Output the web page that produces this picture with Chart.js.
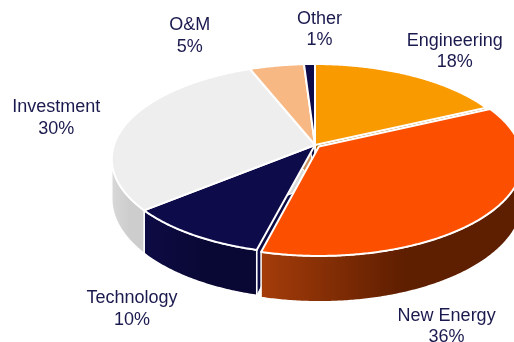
<!DOCTYPE html>
<html>
<head>
<meta charset="utf-8">
<script src="https://cdn.jsdelivr.net/npm/chart.js@4/dist/chart.umd.min.js"></script>
<style>
  html, body { margin: 0; padding: 0; background: #ffffff; overflow: hidden; }
  canvas { display: block; }
</style>
</head>
<body>
<canvas id="c" width="514" height="342"></canvas>
<script>
// Business mix, share of total (%)
const categories = ['Engineering', 'New Energy', 'Technology', 'Investment', 'O&M', 'Other'];
const shares = [18, 36, 10, 30, 5, 1];
const explode = [0, 2.5, 0, 0, 0, 0];

// Styling
const topColors = ['#F99A00', '#FC5000', '#0E0B4A', '#EEEEEE', '#F7B884', '#0E0B4A'];
const wallColors = [
  ['#B06A00', '#8A5200'],
  ['#A53C0A', '#5E1E00'],
  ['#0D0B44', '#090834'],
  ['#D8D8D8', '#CDCDCD'],
  ['#C99060', '#A87040'],
  ['#0D0B44', '#090834']
];
// label centre offsets (px) from the rim point at each slice's middle angle
const labelNudge = [[44, -25], [-44, 113], [-60, 73], [-71, -6], [-87, -31], [10, -36]];
const labelFont = '18px "Liberation Sans", Arial, sans-serif';
const labelColor = '#1B1A4F';

// tilted-disc perspective, in units of the pie radius
const VIEW = { sx: 2.01, sy: 0.929, depth: 0.39, persp: 0.147 };

function geometry(chart) {
  const arcs = chart.getDatasetMeta(0).data;
  const R = arcs[0].outerRadius;
  const cx = arcs[0].x, cy = arcs[0].y;
  const A = VIEW.sx * R, B = VIEW.sy * R, H = VIEW.depth * R, p = VIEW.persp;
  const proj = (ux, uy, h) => {
    const vb = -uy;               // positive towards the back of the disc
    const den = 1 + p * vb;
    return [cx + A * ux / den, cy - B * vb / den + H * h / den];
  };
  const slices = arcs.map((arc, i) => {
    const off = (arc.options.offset || 0) / R;
    const mid = (arc.startAngle + arc.endAngle) / 2;
    return { i, arc, a1: arc.startAngle, a2: arc.endAngle, mid,
             ox: Math.cos(mid) * off, oy: Math.sin(mid) * off };
  });
  const rim = (s, a, h) => proj(s.ox + Math.cos(a), s.oy + Math.sin(a), h);
  const hub = (s, h) => proj(s.ox, s.oy, h);
  return { slices, rim, hub, p };
}

function angles(a1, a2) {
  const n = Math.max(2, Math.ceil(Math.abs(a2 - a1) / (Math.PI / 360)));
  const out = [];
  for (let k = 0; k <= n; k++) out.push(a1 + (a2 - a1) * k / n);
  return out;
}

function tracePoly(ctx, pts) {
  ctx.beginPath();
  ctx.moveTo(pts[0][0], pts[0][1]);
  for (let k = 1; k < pts.length; k++) ctx.lineTo(pts[k][0], pts[k][1]);
  ctx.closePath();
}

const pie3d = {
  id: 'pie3d',
  beforeDatasetsDraw(chart) {
    const meta = chart.getDatasetMeta(0);
    if (!meta.data.length) return false;
    const ctx = chart.ctx;
    const { slices, rim, hub, p } = geometry(chart);
    ctx.save();
    ctx.lineJoin = 'round';

    // radial cut faces (seen only through the gap of an exploded slice)
    slices.forEach(s => {
      [s.a1, s.a2].forEach(a => {
        const pts = [hub(s, 0), rim(s, a, 0), rim(s, a, 1), hub(s, 1)];
        tracePoly(ctx, pts);
        ctx.fillStyle = wallColors[s.i][0];
        ctx.fill();
        ctx.strokeStyle = '#ffffff';
        ctx.lineWidth = 1;
        ctx.stroke();
      });
    });

    // outer walls on the near side of the disc
    const lo = Math.asin(p), hi = Math.PI - Math.asin(p);
    slices.forEach(s => {
      if (!(s.a1 < hi && s.a2 > lo)) return;
      const w1 = Math.max(s.a1, lo), w2 = Math.min(s.a2, hi);
      const top = angles(w1, w2).map(a => rim(s, a, 0));
      const bottom = angles(w2, w1).map(a => rim(s, a, 1));
      const pts = top.concat(bottom);
      const xs = pts.map(q => q[0]);
      const x0 = Math.min(...xs), x1 = Math.max(...xs);
      const g = ctx.createLinearGradient(x0, 0, x1, 0);
      g.addColorStop(0, wallColors[s.i][0]);
      g.addColorStop(0.55, wallColors[s.i][1]);
      g.addColorStop(1, wallColors[s.i][1]);
      tracePoly(ctx, pts);
      ctx.fillStyle = g;
      ctx.fill();
      ctx.strokeStyle = s.arc.options.borderColor;
      ctx.lineWidth = 1.5;
      ctx.stroke();
    });

    // top faces
    slices.forEach(s => {
      const pts = [hub(s, 0)].concat(angles(s.a1, s.a2).map(a => rim(s, a, 0)));
      tracePoly(ctx, pts);
      ctx.fillStyle = s.arc.options.backgroundColor;
      ctx.fill();
      ctx.strokeStyle = s.arc.options.borderColor;
      ctx.lineWidth = s.arc.options.borderWidth;
      ctx.stroke();
    });
    ctx.restore();
    return false;
  },
  afterDraw(chart) {
    const meta = chart.getDatasetMeta(0);
    if (!meta.data.length) return;
    const ctx = chart.ctx;
    const { slices, rim } = geometry(chart);
    const values = chart.data.datasets[0].data;
    ctx.save();
    ctx.font = labelFont;
    ctx.fillStyle = labelColor;
    ctx.textAlign = 'center';
    ctx.textBaseline = 'alphabetic';
    slices.forEach(s => {
      const anchor = rim(s, s.mid, 0);
      const x = anchor[0] + labelNudge[s.i][0];
      const y = anchor[1] + labelNudge[s.i][1];
      ctx.fillText(chart.data.labels[s.i], x, y - 10.75 + 6.4);
      ctx.fillText(values[s.i] + '%', x, y + 10.75 + 6.4);
    });
    ctx.restore();
  }
};

new Chart(document.getElementById('c'), {
  type: 'pie',
  data: {
    labels: categories,
    datasets: [{
      data: shares,
      backgroundColor: topColors,
      borderColor: '#ffffff',
      borderWidth: 2,
      offset: explode,
      hoverOffset: 0
    }]
  },
  options: {
    responsive: false,
    animation: false,
    events: [],
    layout: { padding: { left: 212.75, right: 96.75, top: 42.75, bottom: 94.75 } },
    plugins: { legend: { display: false }, tooltip: { enabled: false } }
  },
  plugins: [pie3d]
});
</script>
</body>
</html>
